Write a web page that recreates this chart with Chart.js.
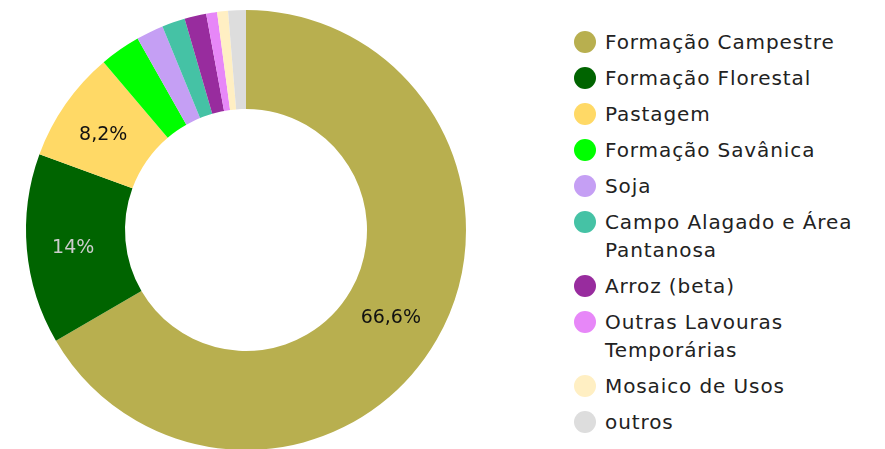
<!DOCTYPE html>
<html>
<head>
<meta charset="utf-8">
<script src="https://cdn.jsdelivr.net/npm/chart.js@4"></script>
<style>
  html, body { margin: 0; padding: 0; background: #fff; overflow: hidden; }
  body { width: 885px; height: 449px; position: relative; font-family: "DejaVu Sans", sans-serif; }
  #wrap { position: absolute; left: 0; top: 10px; width: 492px; height: 440px; }
  #legend { position: absolute; left: 574px; top: 28px; margin: 0; padding: 0; list-style: none; }
  #legend li { display: flex; align-items: flex-start; margin-bottom: 8px; }
  #legend .dot { width: 22px; height: 22px; border-radius: 50%; margin-top: 3px; margin-right: 9px; flex: none; }
  #legend .txt { font-size: 20px; letter-spacing: 0.9px; line-height: 28px; color: #222; white-space: nowrap; }
</style>
</head>
<body>
<div id="wrap"><canvas id="chart"></canvas></div>
<ul id="legend"></ul>
<script>
const categories = [
    'Formação Campestre', 'Formação Florestal', 'Pastagem', 'Formação Savânica', 'Soja',
    ['Campo Alagado e Área', 'Pantanosa'], 'Arroz (beta)', ['Outras Lavouras', 'Temporárias'],
    'Mosaico de Usos', 'outros'
];
const shares = [66.6, 14, 8.2, 3.0, 2.0, 1.7, 1.6, 0.8, 0.8, 1.3];
const colors = ['#b8af4f', '#006400', '#ffd966', '#00ff00', '#c59ff4', '#45c2a5', '#982c9e', '#e787f8', '#ffefc3', '#dddddd'];
const labelColors = ['#111', '#cccccc', '#111', '#111', '#111', '#111', '#111', '#111', '#111', '#111'];

const fmt = v => v.toLocaleString('pt-BR', { maximumFractionDigits: 1 }) + '%';

// draws the percentage inside the big slices
const sliceLabels = {
    id: 'sliceLabels',
    afterDatasetsDraw(chart) {
        const ctx = chart.ctx;
        const meta = chart.getDatasetMeta(0);
        ctx.save();
        ctx.font = '19px "DejaVu Sans"';
        ctx.textAlign = 'center';
        ctx.textBaseline = 'middle';
        meta.data.forEach((arc, i) => {
            if (shares[i] < 5) return;
            const p = arc.tooltipPosition();
            ctx.fillStyle = labelColors[i];
            ctx.fillText(fmt(shares[i]), p.x - 3, p.y + 3);
        });
        ctx.restore();
    }
};

const chart = new Chart(document.getElementById('chart'), {
    type: 'doughnut',
    data: {
        labels: categories,
        datasets: [{ data: shares, backgroundColor: colors, borderWidth: 0 }]
    },
    options: {
        responsive: true, maintainAspectRatio: false, animation: false,
        cutout: '55%',
        layout: { padding: 0 },
        plugins: { legend: { display: false }, tooltip: { enabled: false } }
    },
    plugins: [sliceLabels]
});

// html legend from the chart's own items
const legendEl = document.getElementById('legend');
Chart.overrides.doughnut.plugins.legend.labels.generateLabels(chart).forEach(item => {
    const li = document.createElement('li');
    const dot = document.createElement('span');
    dot.className = 'dot';
    dot.style.background = item.fillStyle;
    const txt = document.createElement('span');
    txt.className = 'txt';
    txt.innerHTML = [].concat(item.text).join('<br>');
    li.appendChild(dot);
    li.appendChild(txt);
    legendEl.appendChild(li);
});
</script>
</body>
</html>
